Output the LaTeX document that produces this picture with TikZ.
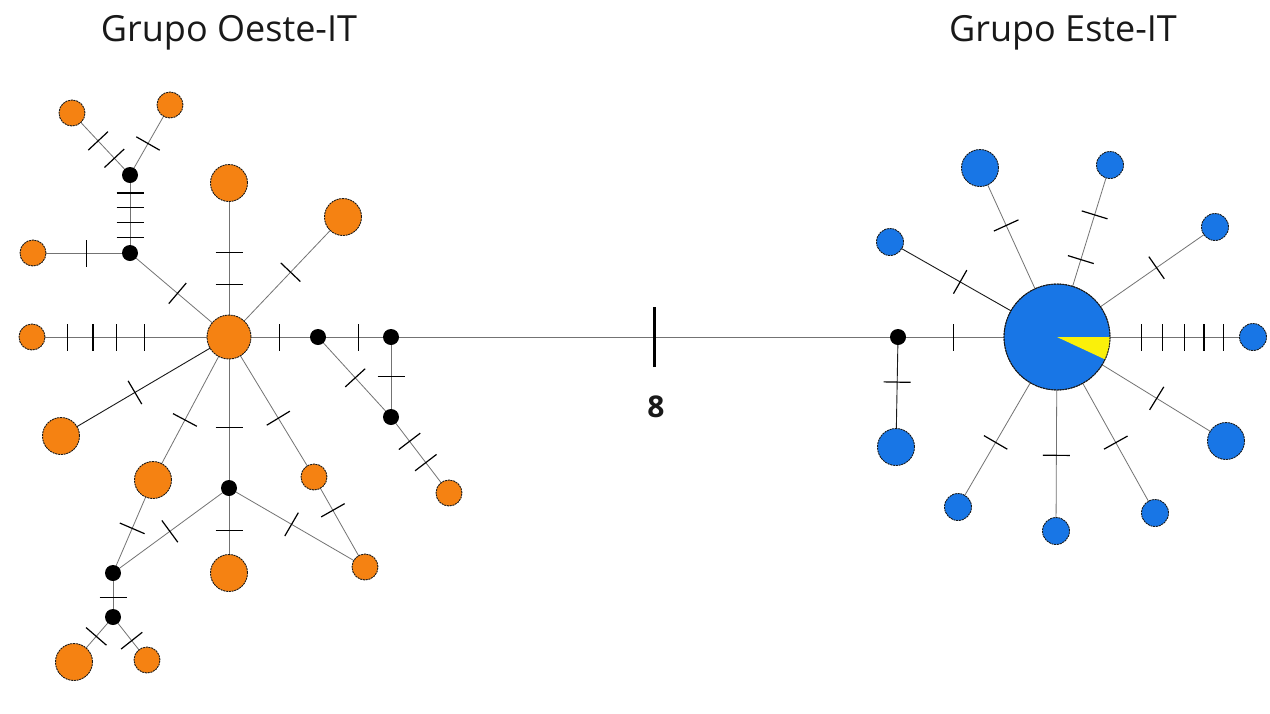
\documentclass[tikz,border=0pt]{standalone}
\usepackage{fontspec}
\setmainfont{Open Sans}
\usetikzlibrary{backgrounds}
\definecolor{hapor}{RGB}{245,130,18}
\definecolor{hapbl}{RGB}{24,118,230}
\definecolor{hapye}{RGB}{250,240,10}
\newcommand\tkr{\rule{1.2pt}{27pt}}
\newcommand\tkbig{\rule{3pt}{60pt}}
\begin{document}
\begin{tikzpicture}[x=1pt, y=-1pt,
  hap/.style={circle, draw=black!90, dash pattern=on 2pt off 0.8pt, line width=0.9pt, inner sep=0pt, outer sep=0pt},
  os/.style={hap, fill=hapor, minimum size=26pt},
  ol/.style={hap, fill=hapor, minimum size=37pt},
  oc/.style={hap, fill=hapor, minimum size=44pt},
  bs/.style={hap, fill=hapbl, minimum size=27pt},
  bl/.style={hap, fill=hapbl, minimum size=37pt},
  bc/.style={hap, fill=hapbl, minimum size=106pt},
  mv/.style={circle, fill=black, inner sep=0pt, minimum size=16pt},
  edge/.style={draw=black!55, line width=0.8pt},
  dedge/.style={draw=black!90, line width=0.9pt},
  tk/.style={pos=#1, sloped, inner sep=0pt, outer sep=0pt, text=black},
  ttl/.style={anchor=base, text=black!90, font=\fontsize{36}{40}\selectfont}
]
\useasboundingbox (0,0) rectangle (1270,713);
\begin{scope}[on background layer]
  \fill[white] (0,0) rectangle (1270,713);
\end{scope}

% titles
\node[ttl] (g1) at (229,41) {Grupo Oeste-IT};
\node[ttl] (g2) at (1063,41) {Grupo Este-IT};
\node[text=black!90, font=\bfseries\fontsize{30}{34}\selectfont] (lab8) at (656,407) {8};

% left group
\node[os] (a1) at (72,113) {};
\node[os] (a2) at (170,105) {};
\node[mv] (m1) at (130,175) {};
\node[mv] (m2) at (130,253) {};
\node[os] (ol) at (33,253) {};
\node[ol] (t) at (229,183) {};
\node[ol] (tr) at (343,217) {};
\node[oc] (c1) at (229,337) {};
\node[os] (fl) at (32,337) {};
\node[ol] (l2) at (61,436) {};
\node[ol] (l3) at (153,480) {};
\node[mv] (m3) at (229,488) {};
\node[ol] (b1) at (229,573) {};
\node[os] (r1) at (314,477) {};
\node[os] (r2) at (365,567) {};
\node[mv] (m4) at (113,573) {};
\node[mv] (m5) at (113,617) {};
\node[ol] (bl1) at (74,662) {};
\node[os] (bl2) at (147,660) {};
\node[mv] (m6) at (318,337) {};
\node[mv] (m7) at (391,337) {};
\node[mv] (m8) at (391,417) {};
\node[os] (r3) at (449,493) {};
\node[mv] (m9) at (898,337) {};

% right group
\node[bc] (c2) at (1057,337) {};
\fill[hapye] (c2.center) -- ++(53,0) arc[start angle=0, end angle=25, radius=53] -- cycle;
\draw[draw=black!90, dash pattern=on 2pt off 0.8pt, line width=0.9pt] (c2.center) circle[radius=53];
\node[bl] (e3) at (980,168) {};
\node[bs] (e4) at (1110,165) {};
\node[bs] (e5) at (1215,227) {};
\node[bs] (e2) at (890,242) {};
\node[bs] (e6) at (1253,337) {};
\node[bl] (e7) at (1226,441) {};
\node[bs] (e8) at (1155,513) {};
\node[bs] (e9) at (1056,531) {};
\node[bs] (e10) at (958,507) {};
\node[bl] (e1) at (896,447) {};

\begin{scope}[on background layer]
  % left edges
  \draw[edge] (a1.center) -- (m1.center) node[tk=0.45]{\tkr} node[tk=0.73]{\tkr};
  \draw[edge] (a2.center) -- (m1.center) node[tk=0.55]{\tkr};
  \draw[edge] (m1.center) -- (m2.center) node[tk=0.23]{\tkr} node[tk=0.42]{\tkr} node[tk=0.61]{\tkr} node[tk=0.8]{\tkr};
  \draw[edge] (ol.center) -- (m2.center) node[tk=0.55]{\tkr};
  \draw[edge] (m2.center) -- (c1.center) node[tk=0.48]{\tkr};
  \draw[edge] (t.center) -- (c1.center) node[tk=0.45]{\tkr} node[tk=0.66]{\tkr};
  \draw[edge] (tr.center) -- (c1.center) node[tk=0.46]{\tkr};
  \draw[edge] (fl.center) -- (c1.center) node[tk=0.18]{\tkr} node[tk=0.31]{\tkr} node[tk=0.43]{\tkr} node[tk=0.57]{\tkr};
  \draw[dedge] (l2.center) -- (c1.center) node[tk=0.44]{\tkr};
  \draw[edge] (l3.center) -- (c1.center) node[tk=0.42]{\tkr};
  \draw[edge] (c1.center) -- (m3.center) node[tk=0.6]{\tkr};
  \draw[edge] (m3.center) -- (b1.center) node[tk=0.5]{\tkr};
  \draw[edge] (l3.center) -- (m4.center) node[tk=0.52]{\tkr};
  \draw[edge] (m3.center) -- (m4.center) node[tk=0.51]{\tkr};
  \draw[edge] (m4.center) -- (m5.center) node[tk=0.55]{\tkr};
  \draw[edge] (m5.center) -- (bl1.center) node[tk=0.43]{\tkr};
  \draw[edge] (m5.center) -- (bl2.center) node[tk=0.55]{\tkr};
  \draw[edge] (c1.center) -- (r1.center) node[tk=0.58]{\tkr};
  \draw[edge] (r1.center) -- (r2.center) node[tk=0.37]{\tkr};
  \draw[edge] (m3.center) -- (r2.center) node[tk=0.46]{\tkr};
  \draw[edge] (c1.center) -- (m6.center) node[tk=0.57]{\tkr};
  \draw[edge] (m6.center) -- (m7.center) node[tk=0.55]{\tkr};
  \draw[edge] (m7.center) -- (m8.center) node[tk=0.49]{\tkr};
  \draw[edge] (m6.center) -- (m8.center) node[tk=0.51]{\tkr};
  \draw[edge] (m8.center) -- (r3.center) node[tk=0.32]{\tkr} node[tk=0.6]{\tkr};
  % central link
  \draw[edge] (m7.center) -- (m9.center) node[tk=0.52]{\tkbig};
  % right edges
  \draw[edge] (c2.center) -- (m9.center) node[tk=0.65]{\tkr};
  \draw[dedge] (m9.center) -- (e1.center) node[tk=0.41]{\tkr};
  \draw[dedge] (c2.center) -- (e2.center) node[tk=0.58]{\tkr};
  \draw[edge] (c2.center) -- (e3.center) node[tk=0.66]{\tkr};
  \draw[edge] (c2.center) -- (e4.center) node[tk=0.45]{\tkr} node[tk=0.71]{\tkr};
  \draw[edge] (c2.center) -- (e5.center) node[tk=0.63]{\tkr};
  \draw[edge] (c2.center) -- (e6.center) node[tk=0.43]{\tkr} node[tk=0.54]{\tkr} node[tk=0.65]{\tkr} node[tk=0.75]{\tkr} node[tk=0.85]{\tkr};
  \draw[edge] (c2.center) -- (e7.center) node[tk=0.59]{\tkr};
  \draw[edge] (c2.center) -- (e8.center) node[tk=0.6]{\tkr};
  \draw[edge] (c2.center) -- (e9.center) node[tk=0.61]{\tkr};
  \draw[edge] (c2.center) -- (e10.center) node[tk=0.62]{\tkr};
\end{scope}
\end{tikzpicture}
\end{document}
